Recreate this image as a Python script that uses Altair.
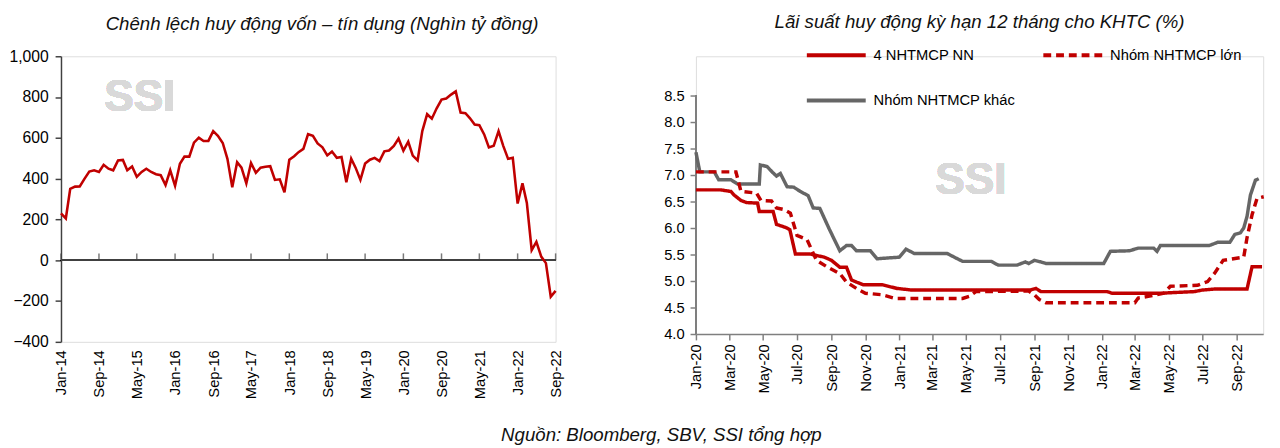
import altair as alt
import pandas as pd

FONT = "Liberation Sans Narrow, Arial Narrow, Liberation Sans, sans-serif"
RED = "#C00000"
GRAY = "#666666"

# ---------------- Left chart data (monthly, Jan-14 .. Sep-22) ----------------
left_first_month = "2014-01-01"
left_values = [
    230, 205, 350, 361, 362, 400, 435, 441, 433, 468,
    449, 441, 489, 492, 441, 460, 409, 433, 449, 433,
    422, 417, 369, 441, 365, 473, 508, 508, 577, 601,
    585, 585, 633, 610, 575, 497, 358, 481, 454, 377,
    477, 429, 454, 458, 461, 394, 397, 333, 493, 510,
    530, 546, 618, 610, 573, 554, 514, 533, 502, 506,
    382, 498, 454, 394, 474, 493, 502, 486, 534, 538,
    561, 597, 537, 581, 513, 490, 633, 716, 694, 745,
    788, 793, 812, 828, 724, 721, 697, 665, 662, 617,
    553, 561, 633, 561, 497, 502, 278, 377, 281, 50,
    90, 18, -14, -179, -150,
]
left_tick_labels = ["Jan-14", "Sep-14", "May-15", "Jan-16", "Sep-16", "May-17", "Jan-18",
                    "Sep-18", "May-19", "Jan-20", "Sep-20", "May-21", "Jan-22", "Sep-22"]
left_y_ticks = [-400, -200, 0, 200, 400, 600, 800, 1000]

# ---------------- Right chart data ----------------
series_names = ["4 NHTMCP NN", "Nhóm NHTMCP lớn", "Nhóm NHTMCP khác"]

other_dates = ["2020-01-01", "2020-01-08", "2020-02-03", "2020-02-11", "2020-03-04", "2020-03-16",
               "2020-04-24", "2020-04-26", "2020-05-08", "2020-05-17", "2020-05-25", "2020-06-01",
               "2020-06-13", "2020-06-25", "2020-07-07", "2020-07-21", "2020-07-30", "2020-08-11",
               "2020-08-28", "2020-09-16", "2020-09-28", "2020-10-07", "2020-10-16", "2020-11-10",
               "2020-11-22", "2021-01-01", "2021-01-13", "2021-01-28", "2021-03-28", "2021-04-25",
               "2021-06-16", "2021-06-28", "2021-08-01", "2021-08-16", "2021-08-22", "2021-09-01",
               "2021-09-13", "2021-09-22", "2022-01-04", "2022-01-16", "2022-02-19", "2022-03-07",
               "2022-04-04", "2022-04-10", "2022-04-16", "2022-07-13", "2022-07-28", "2022-08-19",
               "2022-08-28", "2022-09-07", "2022-09-13", "2022-09-19", "2022-09-25", "2022-10-04",
               "2022-10-10"]
other_values = [7.43, 7.06, 7.06, 6.91, 6.91, 6.83,
                6.83, 7.19, 7.16, 7.06, 6.98, 7.03,
                6.78, 6.77, 6.69, 6.61, 6.38, 6.37,
                5.98, 5.57, 5.67, 5.67, 5.57, 5.57,
                5.42, 5.45, 5.60, 5.52, 5.52, 5.37,
                5.37, 5.30, 5.30, 5.36, 5.33, 5.39,
                5.36, 5.33, 5.33, 5.56, 5.57, 5.62,
                5.62, 5.56, 5.67, 5.67, 5.73, 5.73,
                5.88, 5.91, 6.00, 6.22, 6.62, 6.90,
                6.93]

state_dates = ["2020-01-01", "2020-02-14", "2020-03-04", "2020-03-10", "2020-03-22", "2020-04-01",
               "2020-04-21", "2020-04-24", "2020-05-19", "2020-05-25", "2020-06-13", "2020-06-18",
               "2020-06-28", "2020-07-24", "2020-08-19", "2020-09-01", "2020-09-16", "2020-09-28",
               "2020-10-07", "2020-10-16", "2020-10-28", "2020-12-01", "2020-12-28", "2021-01-23",
               "2021-08-25", "2021-09-04", "2021-09-13", "2022-01-10", "2022-01-19", "2022-04-16",
               "2022-06-16", "2022-07-01", "2022-07-25", "2022-09-19", "2022-09-28", "2022-10-16"]
state_values = [6.72, 6.72, 6.69, 6.62, 6.52, 6.48,
                6.47, 6.31, 6.31, 6.07, 6.00, 5.97,
                5.51, 5.51, 5.45, 5.39, 5.26, 5.26,
                5.02, 4.98, 4.93, 4.93, 4.86, 4.83,
                4.83, 4.86, 4.80, 4.80, 4.77, 4.77,
                4.80, 4.83, 4.85, 4.85, 5.27, 5.27]

large_dates = ["2020-01-01", "2020-03-13", "2020-03-22", "2020-04-19", "2020-04-27", "2020-05-16",
               "2020-05-25", "2020-06-07", "2020-06-19", "2020-07-01", "2020-07-19", "2020-08-05",
               "2020-08-22", "2020-09-16", "2020-09-28", "2020-10-16", "2020-11-01", "2020-12-01",
               "2020-12-25", "2021-04-25", "2021-05-07", "2021-05-19", "2021-08-22", "2021-09-01",
               "2021-09-10", "2021-09-22", "2022-03-01", "2022-03-07", "2022-03-25", "2022-04-22",
               "2022-05-04", "2022-06-22", "2022-07-10", "2022-07-22", "2022-08-07", "2022-09-13",
               "2022-09-19", "2022-09-28", "2022-10-07", "2022-10-19"]
large_values = [7.06, 7.06, 6.69, 6.66, 6.52, 6.51,
                6.38, 6.35, 6.28, 5.86, 5.78, 5.39,
                5.28, 5.14, 4.98, 4.86, 4.77, 4.74,
                4.67, 4.67, 4.71, 4.80, 4.81, 4.74,
                4.65, 4.59, 4.59, 4.68, 4.71, 4.77,
                4.90, 4.92, 4.99, 5.14, 5.39, 5.45,
                5.82, 6.25, 6.56, 6.59]

right_tick_labels = ["Jan-20", "Mar-20", "May-20", "Jul-20", "Sep-20", "Nov-20", "Jan-21",
                     "Mar-21", "May-21", "Jul-21", "Sep-21", "Nov-21", "Jan-22", "Mar-22",
                     "May-22", "Jul-22", "Sep-22"]
right_y_ticks = [4.0, 4.5, 5.0, 5.5, 6.0, 6.5, 7.0, 7.5, 8.0, 8.5]


def label_to_dt(lbl):
    d = pd.to_datetime(lbl, format="%b-%y")
    return alt.DateTime(year=int(d.year), month=int(d.month), date=1)


# ---------------- Left chart ----------------
LEFT_W, LEFT_H = 504, 291
left_dates = pd.date_range(left_first_month, periods=len(left_values), freq="MS").strftime("%Y-%m-%dT00:00:00")
left_df = pd.DataFrame({"date": list(left_dates), "value": left_values})
left_ticks_df = pd.DataFrame({"date": [pd.to_datetime(l, format="%b-%y").strftime("%Y-%m-%dT00:00:00")
                                       for l in left_tick_labels]})

lx_scale = alt.Scale(domain=[label_to_dt(left_tick_labels[0]), label_to_dt(left_tick_labels[-1])], nice=False)
ly_scale = alt.Scale(domain=[left_y_ticks[0], left_y_ticks[-1]], nice=False, zero=False)
lx_axis = alt.Axis(values=[label_to_dt(l) for l in left_tick_labels], format="%b-%y",
                   labelAngle=270, domain=False, ticks=False, grid=False, title=None, labelOverlap=False,
                   labelPadding=8, labelFontSize=15, labelFont=FONT, labelColor="#000")
ly_axis = alt.Axis(values=left_y_ticks, format=",d", grid=False, title=None, labelOverlap=False,
                   domainColor="#404040", tickColor="#404040", domainWidth=1.5, tickWidth=1.5,
                   tickSize=6, labelPadding=7, labelFontSize=16, labelFont=FONT, labelColor="#000")

left_line = alt.Chart(left_df).mark_line(color=RED, strokeWidth=2.6).encode(
    x=alt.X("date:T", scale=lx_scale, axis=lx_axis),
    y=alt.Y("value:Q", scale=ly_scale, axis=ly_axis),
)
left_zero = alt.Chart(left_df).mark_rule(color="#404040", strokeWidth=1.5).encode(
    y=alt.Y(datum=0, type="quantitative", scale=ly_scale, axis=ly_axis))
left_tick_marks = alt.Chart(left_ticks_df).mark_tick(
    color="#404040", thickness=1.5, size=7, yOffset=-3.5, orient="vertical"
).encode(x=alt.X("date:T", scale=lx_scale, axis=lx_axis),
         y=alt.Y(datum=0, type="quantitative", scale=ly_scale, axis=ly_axis))
left_mark = alt.Chart(left_df).mark_text(
    text="SSI", font=FONT, fontSize=45, fontWeight="bold", color="#D9D9D9"
).encode(x=alt.X(datum=alt.DateTime(year=2015, month=5, date=20), type="temporal", scale=lx_scale, axis=lx_axis),
         y=alt.Y(datum=800, type="quantitative", scale=ly_scale, axis=ly_axis))

left = alt.layer(left_mark, left_zero, left_tick_marks, left_line).properties(
    width=LEFT_W, height=LEFT_H,
    title=alt.TitleParams("Chênh lệch huy động vốn – tín dụng (Nghìn tỷ đồng)", font=FONT, fontSize=19,
                          fontStyle="italic", fontWeight="normal", color="#111", anchor="middle",
                          frame="group", offset=15, dx=14),
)

# ---------------- Right chart ----------------
RIGHT_W, RIGHT_AXIS_H, RIGHT_TOP_PAD = 578, 243, 40   # empty band above 8.5 holds the legend
right_top = right_y_ticks[-1] + RIGHT_TOP_PAD * (right_y_ticks[-1] - right_y_ticks[0]) / RIGHT_AXIS_H

rows = []
for name, ds, vs in [(series_names[2], other_dates, other_values),
                     (series_names[0], state_dates, state_values),
                     (series_names[1], large_dates, large_values)]:
    for d, v in zip(ds, vs):
        rows.append({"series": name, "date": d + "T00:00:00", "value": v})
right_df = pd.DataFrame(rows)

legend = alt.Legend(orient="none", legendX=111, legendY=-33, columns=2, direction="horizontal", title=None,
                    symbolType="stroke", symbolSize=3600, symbolStrokeWidth=4,
                    labelFont=FONT, labelFontSize=15, labelColor="#000", labelLimit=400,
                    labelOffset=6, columnPadding=20, rowPadding=6, padding=0)

rx_scale = alt.Scale(domain=[alt.DateTime(year=2020, month=1, date=1),
                             alt.DateTime(year=2022, month=10, date=18)], nice=False)
ry_scale = alt.Scale(domain=[right_y_ticks[0], right_top], nice=False, zero=False)
rx_axis = alt.Axis(values=[label_to_dt(l) for l in right_tick_labels], format="%b-%y",
                   labelAngle=270, grid=False, title=None, domainColor="#7f7f7f", labelOverlap=False,
                   tickColor="#7f7f7f", domainWidth=1.5, tickWidth=1.5, tickSize=6,
                   labelPadding=4, labelFontSize=15, labelFont=FONT, labelColor="#000")
ry_axis = alt.Axis(values=right_y_ticks, format=".1f", grid=False, title=None, labelOverlap=False,
                   domain=False, tickColor="#7f7f7f", tickWidth=1.5,
                   tickSize=6, labelPadding=6, labelFontSize=15, labelFont=FONT, labelColor="#000")

right_lines = alt.Chart(right_df).mark_line(strokeWidth=3.5).encode(
    x=alt.X("date:T", scale=rx_scale, axis=rx_axis),
    y=alt.Y("value:Q", scale=ry_scale, axis=ry_axis),
    color=alt.Color("series:N", scale=alt.Scale(domain=series_names, range=[RED, RED, GRAY]),
                    legend=legend),
    strokeDash=alt.StrokeDash("series:N", scale=alt.Scale(domain=series_names,
                                                          range=[[1, 0], [8, 5], [1, 0]]),
                              legend=legend),
)
right_yline = alt.Chart(right_df).mark_rule(color="#7f7f7f", strokeWidth=1.5).encode(
    x=alt.X(datum=alt.DateTime(year=2020, month=1, date=1), type="temporal", scale=rx_scale, axis=rx_axis),
    y=alt.Y(datum=right_y_ticks[0], type="quantitative", scale=ry_scale, axis=ry_axis),
    y2=alt.Y2(datum=right_y_ticks[-1]),
)
right_mark = alt.Chart(right_df).mark_text(
    text="SSI", font=FONT, fontSize=45, fontWeight="bold", color="#D9D9D9"
).encode(x=alt.X(datum=alt.DateTime(year=2021, month=5, date=10), type="temporal", scale=rx_scale, axis=rx_axis),
         y=alt.Y(datum=6.9, type="quantitative", scale=ry_scale, axis=ry_axis))

right = alt.layer(right_mark, right_yline, right_lines).properties(
    width=RIGHT_W, height=RIGHT_AXIS_H + RIGHT_TOP_PAD,
    title=alt.TitleParams("Lãi suất huy động kỳ hạn 12 tháng cho KHTC (%)", font=FONT, fontSize=19,
                          fontStyle="italic", fontWeight="normal", color="#111", anchor="middle",
                          frame="group", offset=-8),
)

chart = alt.concat(left, right, columns=2, align="none", spacing=100).resolve_scale(
    color="independent", strokeDash="independent"
).resolve_legend(
    color="independent", strokeDash="independent"
).properties(
    padding={"left": 0, "top": 0, "right": 0, "bottom": 0},
    title=alt.TitleParams("Nguồn:  Bloomberg, SBV, SSI tổng hợp", orient="bottom", anchor="middle",
                          font=FONT, fontSize=19, fontStyle="italic", fontWeight="normal",
                          color="#111", dx=22, offset=28),
).configure_view(stroke=None).configure(background="white")

chart.save("out.html", embed_options={"renderer": "svg", "actions": False})
